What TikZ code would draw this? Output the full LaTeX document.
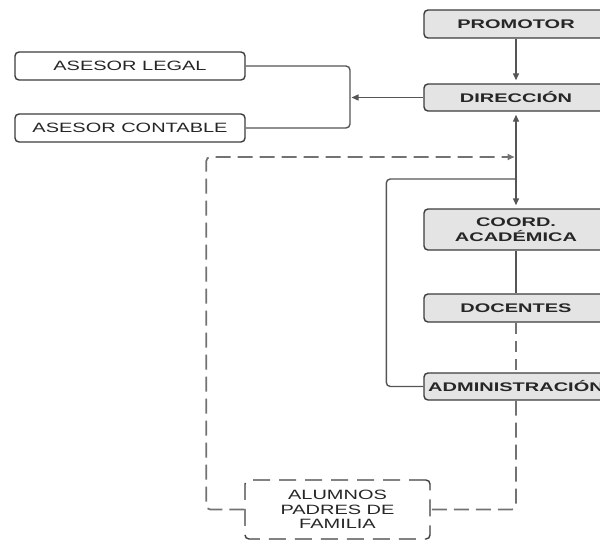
\documentclass[tikz,border=0pt]{standalone}
\usepackage{fontspec}
\newfontfamily\orgbold[FakeStretch=1.6]{Liberation Sans}
\newfontfamily\orgtext[FakeStretch=1.48]{Liberation Sans}
\usetikzlibrary{arrows.meta}
\definecolor{boxgray}{HTML}{E4E4E4}
\definecolor{linegray}{HTML}{555555}
\definecolor{dashgray}{HTML}{727272}
\definecolor{edgegray}{HTML}{3C3C3C}

\begin{document}
\begin{tikzpicture}[
    x=1pt, y=-1pt,
    unit/.style={rectangle, draw=edgegray, fill=boxgray, line width=1.4pt, rounded corners=4pt,
                 minimum width=184pt, minimum height=28pt, inner sep=0pt, align=center,
                 text=black!85, font=\orgbold\bfseries\fontsize{12.5}{15}\selectfont},
    advisor/.style={unit, fill=white, minimum width=230pt,
                    font=\orgtext\fontsize{13.5}{14.5}\selectfont},
    external/.style={advisor, draw=black!75, dash pattern=on 17pt off 9pt, minimum width=185pt, minimum height=59pt},
    link/.style={draw=linegray, line width=1.4pt, rounded corners=4pt},
    dlink/.style={link, draw=dashgray, line width=1.7pt, dash pattern=on 15pt off 7pt},
    arrow/.style={-{Triangle[length=7pt, width=6pt]}},
    twoway/.style={{Triangle[length=7pt, width=6pt]}-{Triangle[length=7pt, width=6pt]}},
]
\clip (0,0) rectangle (600,541);

% columna principal
\node[unit] (promotor) at (516,24) {PROMOTOR};
\node[unit, minimum height=27pt] (direccion) at (516,97.5) {DIRECCIÓN};
\node[unit, minimum height=41pt] (coord) at (516,229.5) {COORD.\\ACADÉMICA};
\node[unit] (docentes) at (516,308) {DOCENTES};
\node[unit, minimum height=27pt] (admin) at (516,386.5) {ADMINISTRACIÓN};

% asesores y comunidad
\node[advisor] (legal) at (130,66) {ASESOR LEGAL};
\node[advisor] (contable) at (130,128) {ASESOR CONTABLE};
\node[external] (alumnos) at (337.5,509.5) {ALUMNOS\\PADRES DE\\FAMILIA};

% puntos de union
\coordinate (bracket) at (350,97.5);
\coordinate (adminjoin) at (516,179);
\coordinate (dashjoin) at (516,157);

% flechas
\draw[link, arrow, shorten >=3pt] (promotor) -- (direccion);
\draw[link, twoway, shorten <=3pt, shorten >=3pt] (direccion) -- (coord);
\draw[link] (legal.east) -| (bracket) |- (contable.east);
\draw[link, arrow, shorten >=1.5pt] (direccion.west) -- (bracket);
\draw[link] (admin.west) -- ++(-37,0) |- (adminjoin);
\draw[link] (coord) -- (docentes);
\draw[dlink, dash pattern=on 11pt off 7pt] (docentes) -- (admin);
\draw[dlink] (admin.south) |- (alumnos.east);
\draw[dlink, arrow, shorten >=1.5pt] (alumnos.west) -- ++(-38,0) |- (dashjoin);
\end{tikzpicture}
\end{document}
